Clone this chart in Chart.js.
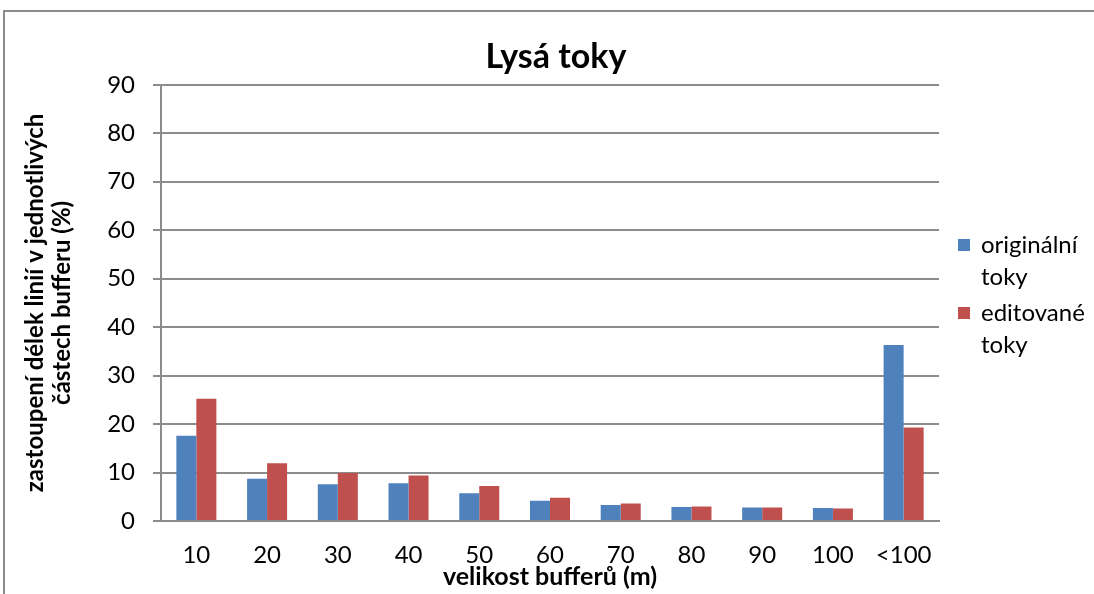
<!DOCTYPE html>
<html>
<head>
<meta charset="utf-8">
<script src="https://cdn.jsdelivr.net/npm/chart.js@4.4.1/dist/chart.umd.min.js"></script>
<style>
  html, body { margin: 0; padding: 0; background: #fff; overflow: hidden; }
  #wrap { position: relative; width: 1094px; height: 594px; }
  #frame { position: absolute; left: 3px; top: 10px; width: 1200px; height: 700px;
           border: 2px solid #8c8c8c; box-sizing: border-box; pointer-events: none; }
  canvas { position: absolute; left: 0; top: 0; }
</style>
</head>
<body>
<div id="wrap">
  <canvas id="c" width="1094" height="594"></canvas>
  <div id="frame"></div>
</div>
<script>
// Buffer widths (m)
const categories = ['10', '20', '30', '40', '50', '60', '70', '80', '90', '100', '<100'];
// Share of line lengths per buffer zone (%)
const originalni = [17.6, 8.7, 7.6, 7.8, 5.7, 4.2, 3.3, 2.9, 2.8, 2.7, 36.3];
const editovane  = [25.2, 11.9, 9.9, 9.4, 7.2, 4.8, 3.6, 3.0, 2.8, 2.6, 19.3];
const seriesNames = ['originální toky', 'editované toky'];
const seriesColors = ['#4F81BD', '#C0504D'];
const yTicks = [0, 10, 20, 30, 40, 50, 60, 70, 80, 90];

const FONT = 'Lato, "Open Sans", sans-serif';
const GRID = '#8c8c8c';

// Legend at the right side, label text wrapped onto several lines
const sideLegend = {
  id: 'sideLegend',
  afterDraw(chart) {
    const ctx = chart.ctx;
    ctx.save();
    ctx.font = '24px ' + FONT;
    ctx.textBaseline = 'middle';
    ctx.textAlign = 'left';
    const boxX = 958, textX = 981, maxW = 110, lineH = 32;
    let y = 245;
    chart.data.datasets.forEach((ds) => {
      const words = ds.label.split(' ');
      const lines = [];
      let cur = '';
      words.forEach(w => {
        const t = cur ? cur + ' ' + w : w;
        if (cur && ctx.measureText(t).width > maxW) { lines.push(cur); cur = w; }
        else cur = t;
      });
      if (cur) lines.push(cur);
      ctx.fillStyle = ds.backgroundColor;
      ctx.fillRect(boxX, y - 6, 12, 12);
      ctx.fillStyle = '#000';
      lines.forEach((ln, i) => ctx.fillText(ln, textX, y + i * lineH));
      y += lines.length * lineH + 4;
    });
    ctx.restore();
  }
};

new Chart(document.getElementById('c'), {
  type: 'bar',
  data: {
    labels: categories,
    datasets: [
      { label: seriesNames[0], data: originalni, backgroundColor: seriesColors[0], yAxisID: 'y' },
      { label: seriesNames[1], data: editovane, backgroundColor: seriesColors[1], yAxisID: 'y' }
    ]
  },
  options: {
    responsive: false,
    animation: false,
    devicePixelRatio: 1,
    datasets: { bar: { categoryPercentage: 0.566, barPercentage: 1.0 } },
    layout: { padding: { left: 18, right: 0, top: 0, bottom: 0 } },
    plugins: {
      legend: { display: false },
      tooltip: { enabled: false },
      title: {
        display: true,
        text: 'Lysá toky',
        color: '#000',
        font: { family: FONT, size: 34, weight: 'bold', lineHeight: 1.2 },
        padding: { top: 37, bottom: 7 }
      }
    },
    scales: {
      x: {
        grid: { display: false, drawTicks: false },
        border: { display: true, color: GRID, width: 2 },
        ticks: { color: '#000', font: { family: FONT, size: 24 }, padding: 20, maxRotation: 0 },
        title: {
          display: true,
          text: 'velikost bufferů (m)',
          color: '#000',
          font: { family: FONT, size: 25, weight: 'bold', lineHeight: 1.2 },
          padding: { top: 0, bottom: 2 }
        },
        afterFit(scale) { scale.height = 73; }
      },
      y: {
        min: 0,
        max: 90,
        afterBuildTicks(scale) { scale.ticks = yTicks.map(v => ({ value: v })); },
        grid: { color: GRID, lineWidth: 2, drawTicks: true, tickLength: 8, tickColor: GRID },
        border: { display: true, color: GRID, width: 2 },
        ticks: { color: '#000', font: { family: FONT, size: 24 }, padding: 18 },
        title: {
          display: true,
          text: ['zastoupení délek linií v jednotlivých', 'částech bufferu (%)'],
          color: '#000',
          font: { family: FONT, size: 24, weight: 'bold', lineHeight: 1.15 },
          padding: { top: 3, bottom: 0 }
        },
        afterFit(scale) { scale.width = 143; }
      },
      // empty strip on the right that holds the legend
      side: {
        type: 'linear',
        position: 'right',
        grid: { display: false, drawTicks: false },
        border: { display: false },
        ticks: { display: false },
        afterFit(scale) { scale.width = 155; }
      }
    }
  },
  plugins: [sideLegend]
});
</script>
</body>
</html>
